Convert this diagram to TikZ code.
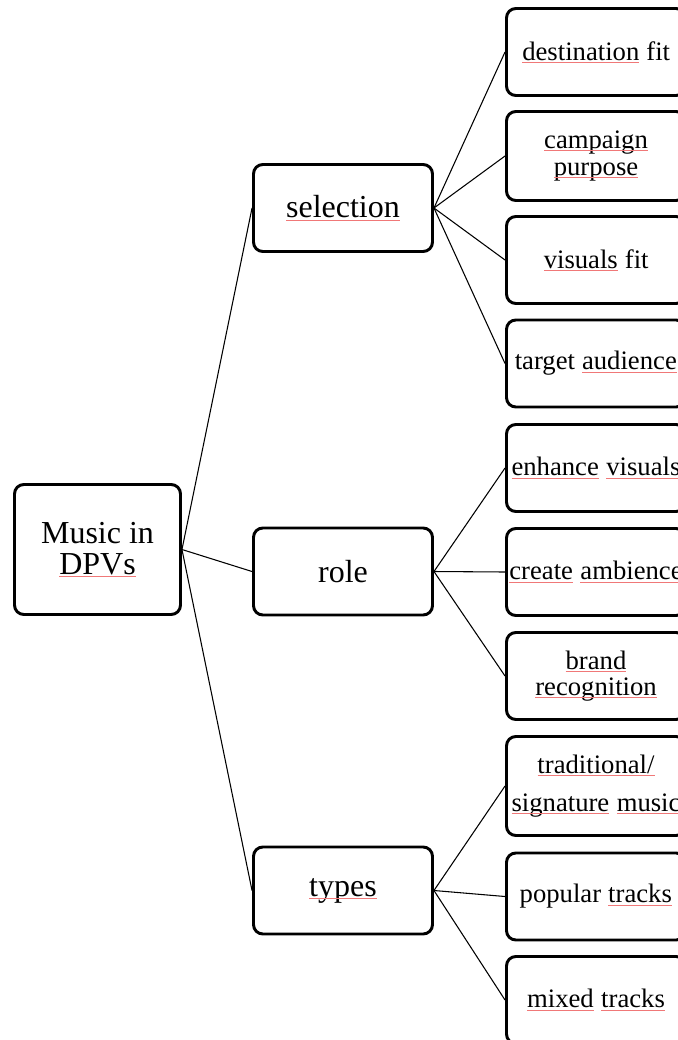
\documentclass[tikz,border=0pt]{standalone}
\usepackage{fontspec}
\setmainfont{Liberation Serif}
\definecolor{spellred}{RGB}{240,120,120}
% thin red spell-check mark under a word, drawn as a small inline picture
\newcommand\spellmark[1]{\tikz[baseline=(w.base)]{%
  \node[inner sep=0pt,outer sep=0pt,draw=none,minimum width=0pt,minimum height=0pt,
        rounded corners=0pt,anchor=base] (w) {#1};
  \draw[spellred,line width=0.6pt,rounded corners=0pt]
    ([yshift=-1.6pt]w.base west) -- ([yshift=-1.6pt]w.base east);}}
\begin{document}
\begin{tikzpicture}[x=0.75pt,y=-0.75pt,
  box/.style={draw=black,line width=2.2pt,rounded corners=7pt,inner sep=0pt,
    align=center,minimum width=134.25pt,minimum height=65.25pt},
  mid/.style={box,font=\fontsize{24}{24}\selectfont},
  leaf/.style={box,font=\fontsize{20}{20}\selectfont},
  link/.style={draw=black,line width=0.8pt}]
\useasboundingbox (0,0) rectangle (678,1040);

% root
\node[box,minimum width=124.5pt,minimum height=97.5pt,
  font=\fontsize{24}{23}\selectfont] (root) at (97.5,549.5) {Music in\\\spellmark{DPVs}};

% second level
\node[mid] (sel)   at (343,208)   {\spellmark{selection}};
\node[mid] (role)  at (343,571.5) {role};
\node[mid] (types) at (343,890.5) {\spellmark{types}};

% leaves
\node[leaf] (dest)   at (596,52)    {\spellmark{destination} fit};
\node[leaf,minimum height=66.75pt] (camp) at (596,156) {\spellmark{campaign}\\\spellmark{purpose}};
\node[leaf] (vis)    at (596,260)   {\spellmark{visuals} fit};
\node[leaf] (target) at (596,363.5) {target \spellmark{audience}};
\node[leaf] (enh)    at (596,468)   {\spellmark{enhance} \spellmark{visuals}};
\node[leaf] (amb)    at (596,572)   {\spellmark{create} \spellmark{ambience}};
\node[leaf] (brand)  at (596,676)   {\spellmark{brand}\\\spellmark{recognition}};
\node[leaf,minimum height=74.25pt,font=\fontsize{20}{28.5}\selectfont] (trad) at (596,786)
  {\spellmark{traditional/}\\\spellmark{signature} \spellmark{music}};
\node[leaf] (pop)    at (596,896.5) {popular \spellmark{tracks}};
\node[leaf] (mixed)  at (596,1000)  {\spellmark{mixed} \spellmark{tracks}};

% connectors
\draw[link] (root.east) -- (sel.west);
\draw[link] (root.east) -- (role.west);
\draw[link] (root.east) -- (types.west);
\foreach \t in {dest,camp,vis,target} \draw[link] (sel.east) -- (\t.west);
\foreach \t in {enh,amb,brand} \draw[link] (role.east) -- (\t.west);
\foreach \t in {trad,pop,mixed} \draw[link] (types.east) -- (\t.west);
\end{tikzpicture}
\end{document}
